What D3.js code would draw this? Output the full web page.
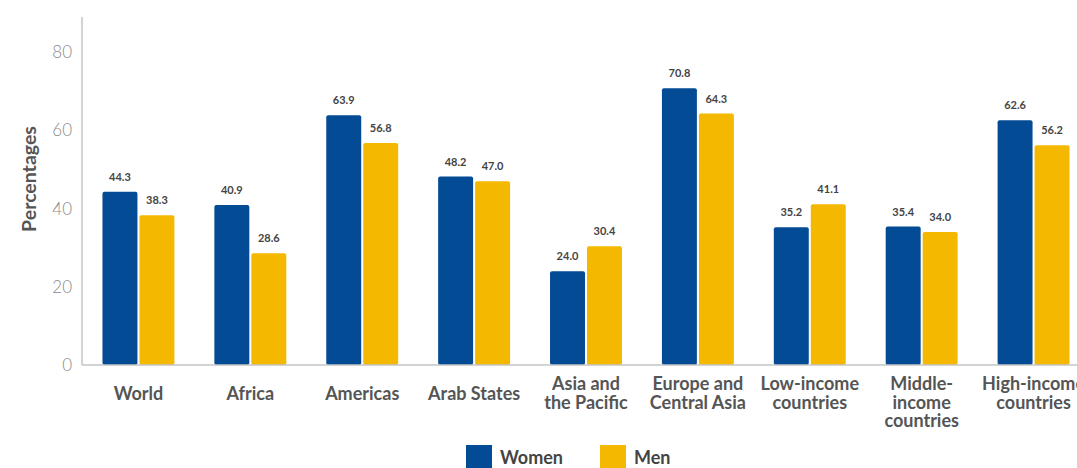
<!DOCTYPE html>
<html>
<head>
<meta charset="utf-8">
<script src="https://cdn.jsdelivr.net/npm/d3@7"></script>
<style>
  body { margin: 0; background: #fff; }
  svg { display: block; font-family: Lato, "Open Sans", sans-serif; }
</style>
</head>
<body>
<svg width="1077" height="468"></svg>
<script>
// Chart data
var categories = [
    ["World"], ["Africa"], ["Americas"], ["Arab States"],
    ["Asia and", "the Pacific"], ["Europe and", "Central Asia"],
    ["Low-income", "countries"], ["Middle-", "income", "countries"],
    ["High-income", "countries"]
];
var series = ["Women", "Men"];
var women = [44.3, 40.9, 63.9, 48.2, 24.0, 70.8, 35.2, 35.4, 62.6];
var men = [38.3, 28.6, 56.8, 47.0, 30.4, 64.3, 41.1, 34.0, 56.2];
var yTicks = [0, 20, 40, 60, 80];

var colors = { Women: "#034b94", Men: "#f4b800" };

var svg = d3.select("svg");

// scales
var x0 = d3.scaleBand()
    .domain(d3.range(categories.length))
    .range([82.5, 1089.5])
    .paddingInner(0.357)
    .paddingOuter(0.1785);

var x1 = d3.scaleBand()
    .domain(series)
    .range([0, x0.bandwidth()])
    .paddingInner(2 / 37);

var y = d3.scaleLinear().domain([0, 89]).range([365, 17]);

var rows = categories.map(function(c, i) {
    return { i: i, label: c, values: [{ s: "Women", v: women[i] }, { s: "Men", v: men[i] }] };
});

// y axis
var yAxis = svg.append("g")
    .attr("transform", "translate(82,0)")
    .call(d3.axisLeft(y).tickValues(yTicks).tickSize(0).tickPadding(10));
yAxis.select(".domain").remove();
yAxis.selectAll("text")
    .attr("fill", "#8a8a8a")
    .attr("font-size", 17)
    .attr("font-weight", 300)
    .attr("font-family", "Lato, sans-serif");

svg.append("line")
    .attr("x1", 82).attr("x2", 82)
    .attr("y1", y(89)).attr("y2", y(0))
    .attr("stroke", "#c4c4c4").attr("stroke-width", 1.5);

svg.append("text")
    .attr("transform", "translate(36,179) rotate(-90)")
    .attr("text-anchor", "middle")
    .attr("fill", "#555")
    .attr("font-size", 19.5)
    .attr("font-weight", 700)
    .text("Percentages");

// bars
var groups = svg.append("g").selectAll("g")
    .data(rows)
    .enter().append("g")
    .attr("transform", function(d) { return "translate(" + x0(d.i) + ",0)"; });

groups.selectAll("rect")
    .data(function(d) { return d.values; })
    .enter().append("rect")
    .attr("x", function(d) { return x1(d.s); })
    .attr("y", function(d) { return y(d.v); })
    .attr("width", x1.bandwidth())
    .attr("height", function(d) { return y(0) - y(d.v); })
    .attr("rx", 2)
    .attr("fill", function(d) { return colors[d.s]; });

groups.selectAll("text.val")
    .data(function(d) { return d.values; })
    .enter().append("text")
    .attr("class", "val")
    .attr("x", function(d) { return x1(d.s) + x1.bandwidth() / 2; })
    .attr("y", function(d) { return y(d.v) - 11; })
    .attr("text-anchor", "middle")
    .attr("fill", "#444")
    .attr("font-size", 11)
    .attr("font-weight", 700)
    .text(function(d) { return d.v.toFixed(1); });

// baseline
svg.append("line")
    .attr("x1", 82).attr("x2", 1077)
    .attr("y1", y(0)).attr("y2", y(0))
    .attr("stroke", "#c4c4c4").attr("stroke-width", 1.5);

// category labels
var catLabels = groups.append("text")
    .attr("x", x0.bandwidth() / 2)
    .attr("y", function(d) { return d.label.length === 1 ? 400 : 390; })
    .attr("text-anchor", "middle")
    .attr("fill", "#555")
    .attr("font-size", 18)
    .attr("font-weight", 700);

catLabels.selectAll("tspan")
    .data(function(d) { return d.label; })
    .enter().append("tspan")
    .attr("x", x0.bandwidth() / 2)
    .attr("dy", function(d, i) { return i === 0 ? 0 : 18.5; })
    .text(function(d) { return d; });

// legend
var legend = svg.append("g").selectAll("g")
    .data(series)
    .enter().append("g")
    .attr("transform", function(d, i) { return "translate(" + (466 + i * 134) + ",445)"; });

legend.append("rect")
    .attr("width", 26).attr("height", 26)
    .attr("fill", function(d) { return colors[d]; });

legend.append("text")
    .attr("x", 34).attr("y", 19)
    .attr("fill", "#444")
    .attr("font-size", 18)
    .attr("font-weight", 700)
    .text(function(d) { return d; });
</script>
</body>
</html>
